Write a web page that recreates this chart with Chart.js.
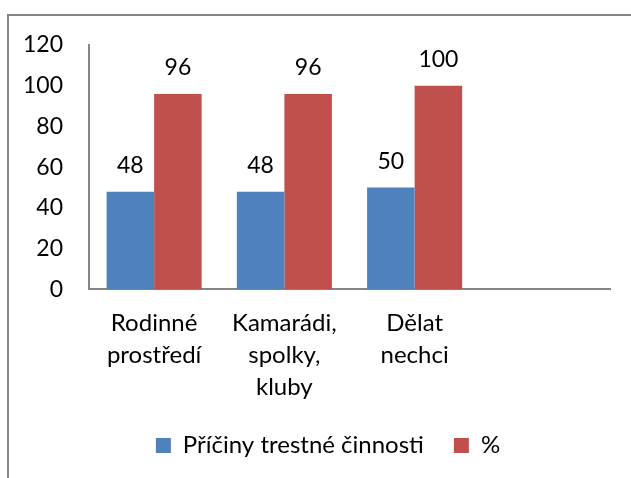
<!DOCTYPE html>
<html lang="cs">
<head>
<meta charset="UTF-8">
<title>Příčiny trestné činnosti</title>
<script src="https://cdn.jsdelivr.net/npm/chart.js@4"></script>
<style>
    html, body { margin: 0; padding: 0; background: #fff; overflow: hidden; }
    #frame {
        position: absolute; left: 7px; top: 14px;
        width: 700px; height: 600px;
        border-top: 2px solid #868686;
        border-left: 2px solid #868686;
    }
    #wrap { position: absolute; left: 0; top: 0; width: 631px; height: 478px; }
</style>
</head>
<body>
<div id="frame"></div>
<div id="wrap"><canvas id="chart" width="631" height="478"></canvas></div>
<script>
// categories (last slot is empty in the original)
const categories = [
    ['Rodinné', 'prostředí'],
    ['Kamarádi,', 'spolky,', 'kluby'],
    ['Dělat', 'nechci'],
    ''
];
const seriesNames = ['Příčiny trestné činnosti', '%'];
const causeValues = [48, 48, 50, null];
const percentValues = [96, 96, 100, null];
const yTicks = [0, 20, 40, 60, 80, 100, 120];

const FONT = 'Lato, "Open Sans", sans-serif';
const axisGray = '#868686';

// simple value labels above each bar
const valueLabels = {
    id: 'valueLabels',
    afterDatasetsDraw(chart) {
        const ctx = chart.ctx;
        ctx.save();
        ctx.font = '23px ' + FONT;
        ctx.fillStyle = '#000';
        ctx.textAlign = 'center';
        ctx.textBaseline = 'middle';
        chart.data.datasets.forEach((ds, i) => {
            const meta = chart.getDatasetMeta(i);
            meta.data.forEach((bar, j) => {
                const v = ds.data[j];
                if (v === null || v === undefined) return;
                ctx.fillText(String(v), bar.x, bar.y - 26);
            });
        });
        ctx.restore();
    }
};

// the original legend sits a bit right of centre
const legendShift = {
    id: 'legendShift',
    afterLayout(chart) {
        if (chart.legend) {
            chart.legend.left += 23;
            chart.legend.right += 23;
        }
    }
};

const ctx = document.getElementById('chart').getContext('2d');
new Chart(ctx, {
    type: 'bar',
    data: {
        labels: categories,
        datasets: [
            {
                label: seriesNames[0],
                data: causeValues,
                backgroundColor: '#4F81BD'
            },
            {
                label: seriesNames[1],
                data: percentValues,
                backgroundColor: '#C0504D'
            }
        ]
    },
    options: {
        responsive: false,
        animation: false,
        categoryPercentage: 0.73,
        barPercentage: 1.0,
        layout: { padding: { left: 0, right: 21, top: 45, bottom: 10.6 } },
        plugins: {
            tooltip: { enabled: false },
            legend: {
                position: 'bottom',
                labels: {
                    font: { family: FONT, size: 24, lineHeight: 1.1 },
                    color: '#000',
                    boxWidth: 15,
                    boxHeight: 15,
                    padding: 30
                }
            }
        },
        scales: {
            x: {
                grid: { display: false, drawTicks: false },
                border: { display: true, color: axisGray, width: 2 },
                ticks: {
                    color: '#000',
                    font: { family: FONT, size: 24, lineHeight: 1.33 },
                    padding: 18,
                    maxRotation: 0,
                    autoSkip: false
                },
                afterFit(scale) { scale.height = 114; }
            },
            y: {
                min: 0,
                max: 120,
                afterBuildTicks(scale) {
                    scale.ticks = yTicks.map(v => ({ value: v }));
                },
                grid: { display: false, drawTicks: false },
                border: { display: true, color: axisGray, width: 2 },
                ticks: {
                    color: '#000',
                    font: { family: FONT, size: 23 },
                    padding: 26
                },
                afterFit(scale) { scale.width = 89; }
            }
        }
    },
    plugins: [valueLabels, legendShift]
});
</script>
</body>
</html>
